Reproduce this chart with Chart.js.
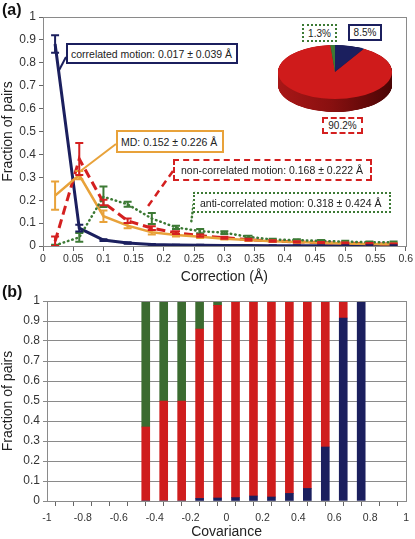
<!DOCTYPE html>
<html><head><meta charset="utf-8">
<script src="https://cdn.jsdelivr.net/npm/chart.js@4/dist/chart.umd.min.js"></script>
<style>
body{margin:0;background:#fff;width:415px;height:539px;position:relative;overflow:hidden;font-family:"Liberation Sans",Arial,sans-serif;}
canvas{position:absolute;}
.box{position:absolute;background:#fff;font-size:10.5px;color:#222;display:flex;align-items:center;padding-left:3px;box-sizing:border-box;white-space:nowrap;}
.pbox{position:absolute;background:#fff;font-size:10px;color:#222;display:flex;align-items:center;justify-content:center;box-sizing:border-box;white-space:nowrap;}
.lbl{position:absolute;font-weight:bold;font-size:16px;color:#111;}
</style></head><body>
<canvas id="top" width="415" height="285" style="left:0;top:0"></canvas>
<canvas id="bot" width="415" height="254" style="left:0;top:285px"></canvas>
<canvas id="pie" width="130" height="140" style="left:270px;top:2px"></canvas>
<div class="lbl" style="left:2px;top:1px">(a)</div>
<div class="lbl" style="left:2px;top:283px">(b)</div>
<div class="box" style="left:66px;top:43px;width:172px;height:21px;border:2px solid #1b1f5e">correlated motion: 0.017 ± 0.039 Å</div>
<div class="box" style="left:116px;top:130px;width:108px;height:23px;border:2px solid #e8a23a">MD: 0.152 ± 0.226 Å</div>
<div class="box" style="left:173px;top:159px;width:199px;height:22px;border:2px dashed #d42020;padding-left:6px">non-correlated motion: 0.168 ± 0.222 Å</div>
<div class="box" style="left:193px;top:192px;width:198px;height:21px;border:2px dotted #3d7a35;padding-left:5px">anti-correlated motion: 0.318 ± 0.424 Å</div>
<div class="pbox" style="left:302px;top:24px;width:35px;height:18px;border:2px dotted #3d7a35">1.3%</div>
<div class="pbox" style="left:348px;top:24px;width:34px;height:17px;border:2px solid #1b1f5e">8.5%</div>
<div class="pbox" style="left:322px;top:117px;width:41px;height:17px;border:2px dashed #d42020">90.2%</div>
<script>
// ---------- data: panel (a) ----------
const corrX   = [0.02,0.06,0.10,0.14,0.18,0.22,0.26,0.30,0.34,0.38,0.42,0.46,0.50,0.54,0.58];
const corrY   = [0.882,0.078,0.026,0.013,0.007,0.004,0.003,0.002,0.002,0.001,0.001,0.001,0.001,0.001,0.001];
const corrErr = [0.038,0.015,0.004,0.003,0.002,0.002,0.002,0.002,0.002,0.002,0.002,0.002,0.002,0.002,0.002];
const mdY     = [0.22,0.31,0.13,0.089,0.06,0.048,0.04,0.032,0.026,0.021,0.017,0.014,0.011,0.009,0.008];
const mdErr   = [0.062,0.018,0.025,0.011,0.01,0.006,0.005,0.004,0.004,0.003,0.003,0.003,0.003,0.003,0.003];
const nonY    = [0.02,0.38,0.19,0.11,0.078,0.058,0.045,0.036,0.028,0.022,0.018,0.015,0.012,0.01,0.008];
const nonErr  = [0.022,0.07,0.012,0.01,0.008,0.006,0.005,0.004,0.004,0.003,0.003,0.003,0.003,0.003,0.003];
const antiY   = [0.003,0.038,0.215,0.182,0.12,0.081,0.065,0.058,0.04,0.028,0.026,0.022,0.019,0.016,0.016];
const antiErr = [0.003,0.019,0.045,0.011,0.024,0.007,0.009,0.006,0.005,0.004,0.004,0.004,0.004,0.004,0.004];
const pieLabels = ['correlated','non-correlated','anti-correlated'];
const pieValues = [8.5,90.2,1.3];
// ---------- data: panel (b) ----------
const covX     = [-0.45,-0.35,-0.25,-0.15,-0.05,0.05,0.15,0.25,0.35,0.45,0.55,0.65,0.75];
const barCorr  = [0,0,0,0.013,0.015,0.017,0.025,0.02,0.038,0.063,0.27,0.915,1.0];
const barNon   = [0.37,0.5,0.5,0.847,0.963,0.978,0.97,0.98,0.962,0.937,0.73,0.085,0];
const barAnti  = [0.63,0.5,0.5,0.14,0.022,0.005,0.005,0,0,0,0,0,0];

const NAVY='#1b1f5e', RED='#d42020', GREEN='#3d7a35', ORANGE='#e8a23a';
const FONT='"Liberation Sans", Arial, sans-serif';
const pts=(xs,ys)=>xs.map((x,i)=>({x,y:ys[i]}));

const errPlugin={id:'err',afterDatasetsDraw(chart){
  const ctx=chart.ctx,xs=chart.scales.x,ys=chart.scales.y;
  chart.data.datasets.forEach(ds=>{
    if(!ds.err)return;
    ctx.save();ctx.strokeStyle=ds.borderColor;ctx.lineWidth=2;ctx.setLineDash([]);
    ds.data.forEach((p,i)=>{
      const e=ds.err[i];const px=xs.getPixelForValue(p.x);
      const y1=ys.getPixelForValue(Math.max(0,p.y-e)),y2=ys.getPixelForValue(p.y+e);
      ctx.beginPath();ctx.moveTo(px,y1);ctx.lineTo(px,y2);
      ctx.moveTo(px-4,y1);ctx.lineTo(px+4,y1);ctx.moveTo(px-4,y2);ctx.lineTo(px+4,y2);ctx.stroke();
    });
    ctx.restore();
  });
}};
const frame={id:'frame',afterDraw(chart){
  const a=chart.chartArea,ctx=chart.ctx;ctx.save();ctx.strokeStyle='#8a8a8a';ctx.lineWidth=1;
  ctx.strokeRect(Math.round(a.left)+0.5,Math.round(a.top)+0.5,Math.round(a.right-a.left),Math.round(a.bottom-a.top));ctx.restore();
}};
// callout pointers: start at the annotation box, end at a position in data space
const pointers=[
  {from:[66,57],to:{x:0.027,y:0.77},color:NAVY,dash:[],w:2},
  {from:[116,144],to:{x:0.061,y:0.325},color:ORANGE,dash:[],w:2},
  {from:[173,171],to:{x:0.17,y:0.16},color:RED,dash:[7,5],w:2.5},
  {from:[195,193],to:{x:0.245,y:0.1},color:GREEN,dash:[0.5,3.5],w:2.5}
];
const pointerPlugin={id:'ptr',afterDatasetsDraw(chart){
  const ctx=chart.ctx,xs=chart.scales.x,ys=chart.scales.y;
  pointers.forEach(p=>{ctx.save();ctx.strokeStyle=p.color;ctx.lineWidth=p.w;ctx.setLineDash(p.dash);ctx.lineCap=p.dash.length&&p.dash[0]<1?'round':'butt';
    ctx.beginPath();ctx.moveTo(p.from[0],p.from[1]);ctx.lineTo(xs.getPixelForValue(p.to.x),ys.getPixelForValue(p.to.y));ctx.stroke();ctx.restore();});
}};

new Chart(document.getElementById('top'),{
  type:'line',
  data:{datasets:[
    {label:'anti-correlated',data:pts(corrX,antiY),err:antiErr,borderColor:GREEN,borderWidth:2.5,borderDash:[0.5,4],borderCapStyle:'round',pointRadius:0,tension:0},
    {label:'MD',data:pts(corrX,mdY),err:mdErr,borderColor:ORANGE,borderWidth:2.5,pointRadius:0,tension:0},
    {label:'non-correlated',data:pts(corrX,nonY),err:nonErr,borderColor:RED,borderWidth:3,borderDash:[9,5],pointRadius:0,tension:0},
    {label:'correlated',data:pts(corrX,corrY),err:corrErr,borderColor:NAVY,borderWidth:3,pointRadius:0,tension:0}
  ]},
  options:{responsive:false,animation:false,events:[],
    layout:{padding:{top:17,right:8,left:0,bottom:0}},
    plugins:{legend:{display:false},tooltip:{enabled:false}},
    scales:{
      x:{type:'linear',min:0,max:0.6,
        afterFit(s){s.height=39;},
        border:{color:'#666',width:1},
        grid:{drawOnChartArea:false,drawTicks:true,tickLength:5,color:'#666'},
        ticks:{stepSize:0.05,autoSkip:false,maxRotation:0,padding:2,color:'#333',font:{family:FONT,size:10.5},callback:v=>String(Math.round(v*100)/100)},
        title:{display:true,text:'Correction (Å)',color:'#222',font:{family:FONT,size:14,lineHeight:1},padding:{top:0,bottom:1}}},
      y:{min:0,max:1,
        afterFit(s){s.width=43;},
        border:{color:'#666',width:1},
        grid:{drawOnChartArea:false,drawTicks:true,tickLength:4,color:'#666'},
        ticks:{stepSize:0.1,autoSkip:false,padding:3,color:'#333',font:{family:FONT,size:12},callback:v=>String(Math.round(v*10)/10)},
        title:{display:true,text:'Fraction of pairs',color:'#222',font:{family:FONT,size:14},padding:{top:0,bottom:0}}}
    }},
  plugins:[frame,errPlugin,pointerPlugin]
});

new Chart(document.getElementById('bot'),{
  type:'bar',
  data:{datasets:[
    {label:'correlated',data:pts(covX,barCorr),backgroundColor:NAVY},
    {label:'non-correlated',data:pts(covX,barNon),backgroundColor:'#cf1d1d'},
    {label:'anti-correlated',data:pts(covX,barAnti),backgroundColor:'#3b6b30'}
  ]},
  options:{responsive:false,animation:false,events:[],
    datasets:{bar:{barThickness:8,borderWidth:0}},
    layout:{padding:{top:16,right:8,left:0,bottom:0}},
    plugins:{legend:{display:false},tooltip:{enabled:false}},
    scales:{
      x:{type:'linear',min:-1,max:1,stacked:true,offset:false,
        afterFit(s){s.height=38;},
        border:{color:'#777',width:1},
        grid:{drawOnChartArea:false,drawTicks:true,tickLength:5,color:'#666'},
        ticks:{stepSize:0.1,autoSkip:false,maxRotation:0,padding:6,color:'#333',font:{family:FONT,size:10.5},
          callback:v=>{const r=Math.round(v*10);return r%2!==0?'':String(r/10);}},
        title:{display:true,text:'Covariance',color:'#222',font:{family:FONT,size:14,lineHeight:1},padding:{top:0,bottom:0}}},
      y:{min:0,max:1,stacked:true,
        afterFit(s){s.width=47;},
        border:{color:'#777',width:1},
        grid:{drawOnChartArea:true,drawTicks:true,tickLength:4,color:'#8a8a8a'},
        ticks:{stepSize:0.1,autoSkip:false,padding:3,color:'#333',font:{family:FONT,size:12},callback:v=>String(Math.round(v*10)/10)},
        title:{display:true,text:'Fraction of pairs',color:'#222',font:{family:FONT,size:14},padding:{top:0,bottom:0}}}
    }},
  plugins:[frame]
});

// 3D-looking pie
const PIE_K=0.474, PIE_DEPTH=13;
const pie3d={id:'pie3d',
  beforeDatasetsDraw(chart){
    const ctx=chart.ctx,meta=chart.getDatasetMeta(0),a0=meta.data[0];
    const cx=a0.x,cy=a0.y,r=a0.outerRadius;
    ctx.save();ctx.translate(0,cy);ctx.scale(1,PIE_K);ctx.translate(0,-cy);
    const g=ctx.createLinearGradient(cx-r,0,cx+r,0);
    g.addColorStop(0,'#a81717');g.addColorStop(0.45,'#8a1010');g.addColorStop(1,'#4a0505');
    const side=['#0c0d33',g,'#244a1e'];
    const depth=PIE_DEPTH/PIE_K;
    for(let d=depth;d>0;d-=0.5){
      meta.data.forEach((arc,i)=>{ctx.beginPath();ctx.moveTo(arc.x,arc.y+d);
        ctx.arc(arc.x,arc.y+d,arc.outerRadius,arc.startAngle,arc.endAngle);ctx.closePath();ctx.fillStyle=side[i];ctx.fill();});
    }
  },
  afterDatasetsDraw(chart){chart.ctx.restore();}
};
new Chart(document.getElementById('pie'),{
  type:'pie',
  data:{labels:pieLabels,datasets:[{data:pieValues,backgroundColor:[NAVY,'#cf1b1b','#3d7a35'],borderWidth:0,clip:false}]},
  options:{responsive:false,animation:false,events:[],
    layout:{padding:{left:8,right:8,top:13,bottom:13}},
    plugins:{legend:{display:false},tooltip:{enabled:false}}},
  plugins:[pie3d]
});
</script>
</body></html>
